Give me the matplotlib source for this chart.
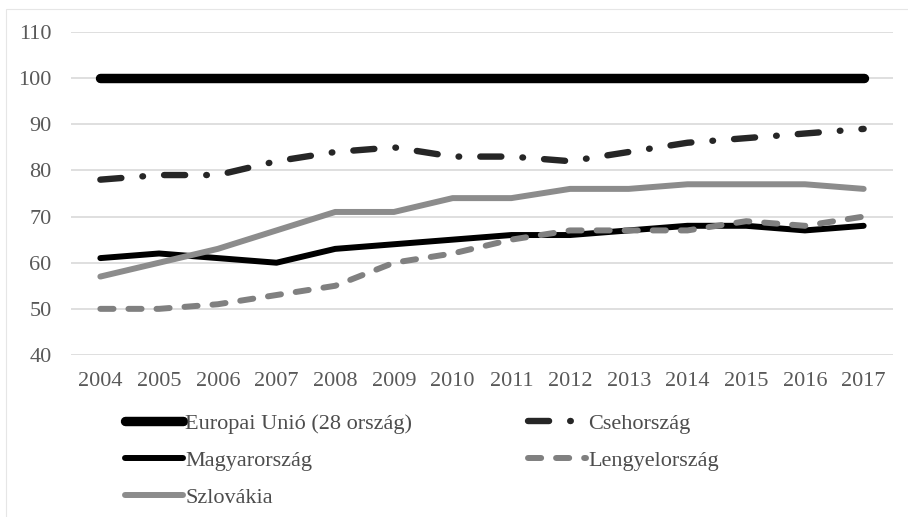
import numpy as np
import matplotlib
matplotlib.use('Agg')
import matplotlib.pyplot as plt
from matplotlib.patches import Rectangle

plt.rcParams['font.family'] = ['Liberation Serif', 'DejaVu Serif']

years = ['2004', '2005', '2006', '2007', '2008', '2009', '2010',
         '2011', '2012', '2013', '2014', '2015', '2016', '2017']
eu = [100, 100, 100, 100, 100, 100, 100, 100, 100, 100, 100, 100, 100, 100]
cseh = [78, 79, 79, 82, 84, 85, 83, 83, 82, 84, 86, 87, 88, 89]
magyar = [61, 62, 61, 60, 63, 64, 65, 66, 66, 67, 68, 68, 67, 68]
lengyel = [50, 50, 51, 53, 55, 60, 62, 65, 67, 67, 67, 69, 68, 70]
szlovak = [57, 60, 63, 67, 71, 71, 74, 74, 76, 76, 77, 77, 77, 76]

fig = plt.figure(figsize=(9.08, 5.17), dpi=100)
ax = fig.add_axes([71/908, 1-355/517, (893-71)/908, (355-32)/517])

x = np.arange(len(years))
l_eu, = ax.plot(x, eu, color='black', lw=6.8, solid_capstyle='round',
                label='Europai Unió (28 ország)', zorder=3)
l_cs, = ax.plot(x, cseh, color='#262626', lw=4.6, dash_capstyle='round',
                dashes=(3.3, 3.3, 0.1, 3.3), label='Csehország', zorder=3)
l_hu, = ax.plot(x, magyar, color='black', lw=4.3, solid_capstyle='round',
                label='Magyarország', zorder=3)
l_pl, = ax.plot(x, lengyel, color='#808080', lw=4.3, dash_capstyle='round',
                dashes=(2.2, 2.5), label='Lengyelország', zorder=4)
l_sk, = ax.plot(x, szlovak, color='#8c8c8c', lw=4.3, solid_capstyle='round',
                label='Szlovákia', zorder=3)

ax.set_xlim(-0.5, len(years) - 0.5)
ax.set_ylim(40, 110)
ax.set_yticks(np.arange(40, 111, 10))
ax.set_xticks(x)
ax.set_xticklabels(years)
ax.grid(axis='y', color='#d9d9d9', lw=1.2)
ax.set_axisbelow(True)
for s in ax.spines.values():
    s.set_visible(False)
ax.tick_params(length=0, labelsize=16, colors='#595959')
ax.tick_params(axis='x', pad=12)
ax.tick_params(axis='y', pad=14)

handles = [l_eu, l_hu, l_sk, l_cs, l_pl]
leg = fig.legend(handles, [h.get_label() for h in handles], ncol=2,
                 loc='upper left', bbox_to_anchor=(125/908, 1-413/517),
                 frameon=False, fontsize=16, handlelength=2.6,
                 handletextpad=0.12, columnspacing=5.2, labelspacing=0.75,
                 borderaxespad=0, borderpad=0)
for t in leg.get_texts():
    t.set_color('#4d4d4d')

fig.patches.append(Rectangle((6/908, -0.01), 1.0, 1 - 9/517 + 0.01,
                             transform=fig.transFigure, fill=False,
                             edgecolor='#e6e6e6', lw=0.8))

fig.savefig('out.png', dpi=100)
